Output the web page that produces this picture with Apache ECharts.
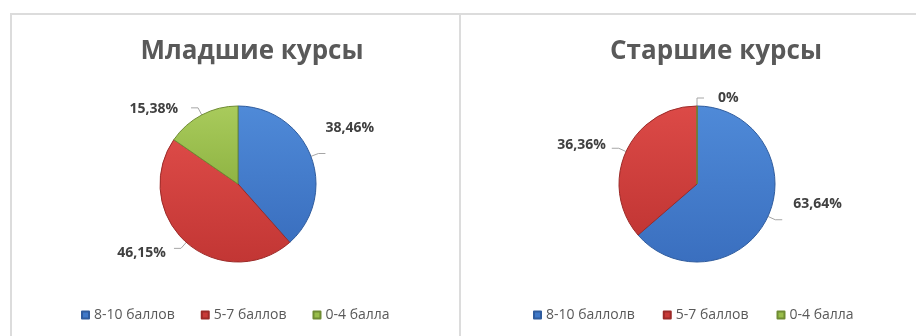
<!DOCTYPE html>
<html>
<head>
<meta charset="utf-8">
<script src="https://cdn.jsdelivr.net/npm/echarts@6/dist/echarts.min.js"></script>
<style>
  html, body { margin: 0; padding: 0; background: #ffffff; }
  #chart { width: 916px; height: 336px; }
</style>
</head>
<body>
<div id="chart"></div>
<script>
// Share of students by score band, in percent
const juniorTitle = 'Младшие курсы';
const seniorTitle = 'Старшие курсы';
const juniorNames = ['8-10 баллов', '5-7 баллов', '0-4 балла'];
const seniorNames = ['8-10 баллолв', '5-7 баллов', '0-4 балла'];
const juniorValues = [38.46, 46.15, 15.38];
const seniorValues = [63.64, 36.36, 0];

const FONT = '"Open Sans", "Noto Sans", sans-serif';

// Office-style fills: lighter at the top, darker toward the bottom rim
function fill(light, dark) {
  return new echarts.graphic.LinearGradient(0, 0, 0, 1, [
    { offset: 0, color: light },
    { offset: 1, color: dark }
  ]);
}
const bandFills = [
  { color: fill('#4f8ad8', '#3a6fbf'), borderColor: '#2f5c9e' },
  { color: fill('#dc4a47', '#c23634'), borderColor: '#9c2a28' },
  { color: fill('#a9cb5c', '#8fb443'), borderColor: '#6f8c33' }
];
const legendColors = ['#3f78c8', '#c83a38', '#98bd4a'];

function fmtPercent(v) {
  return (Math.round(v * 100) / 100).toFixed(2).replace(/\.?0+$/, '').replace('.', ',') + '%';
}

function buildData(names, values) {
  return names.map((n, i) => ({
    name: n,
    value: values[i],
    itemStyle: { color: bandFills[i].color, borderColor: bandFills[i].borderColor, borderWidth: 1 }
  }));
}

function pieSeries(names, values, centerX, shifts) {
  return {
    type: 'pie',
    center: [centerX, 184],
    radius: 78,
    startAngle: 90,
    clockwise: true,
    minShowLabelAngle: 0,
    stillShowZeroSum: true,
    avoidLabelOverlap: false,
    data: buildData(names, values),
    label: {
      show: true,
      position: 'outside',
      formatter: p => fmtPercent(p.value),
      color: '#404040',
      fontFamily: FONT,
      fontWeight: 'bold',
      fontSize: 14,
      padding: [0, 1]
    },
    labelLine: {
      show: true,
      length: 8,
      length2: 7,
      lineStyle: { color: '#a6a6a6', width: 1 }
    },
    labelLayout: p => ({ dx: shifts[p.dataIndex][0], dy: shifts[p.dataIndex][1] }),
    emphasis: { disabled: true }
  };
}

function legendFor(names, leftPos, gap) {
  return {
    data: names.map((n, i) => ({ name: n, itemStyle: { color: legendColors[i] } })),
    left: leftPos,
    top: 303,
    orient: 'horizontal',
    icon: 'rect',
    itemWidth: 7,
    itemHeight: 7,
    itemGap: gap,
    selectedMode: false,
    textStyle: { color: '#595959', fontFamily: FONT, fontSize: 14 }
  };
}

const chart = echarts.init(document.getElementById('chart'), null, { renderer: 'canvas' });

chart.setOption({
  backgroundColor: '#ffffff',
  animation: false,
  title: [
    { text: juniorTitle, left: 247, top: 34, textAlign: 'center',
      textStyle: { color: '#595959', fontFamily: FONT, fontWeight: 'bold', fontSize: 26 } },
    { text: seniorTitle, left: 711, top: 34, textAlign: 'center',
      textStyle: { color: '#595959', fontFamily: FONT, fontWeight: 'bold', fontSize: 26 } }
  ],
  legend: [legendFor(juniorNames, 76, 26), legendFor(seniorNames, 528, 28)],
  graphic: [
    { type: 'line', shape: { x1: 10, y1: 14, x2: 916, y2: 14 }, style: { stroke: '#dcdcdc', lineWidth: 2 }, silent: true },
    { type: 'line', shape: { x1: 11, y1: 14, x2: 11, y2: 336 }, style: { stroke: '#dcdcdc', lineWidth: 2 }, silent: true },
    { type: 'line', shape: { x1: 460, y1: 14, x2: 460, y2: 336 }, style: { stroke: '#dcdcdc', lineWidth: 2 }, silent: true }
  ],
  series: [
    pieSeries(juniorNames, juniorValues, 238, [[-6, -25], [-2, 5], [-7, 1]]),
    pieSeries(seniorNames, seniorValues, 697, [[5, -16], [0, -3], [8, 0]])
  ]
});
</script>
</body>
</html>
